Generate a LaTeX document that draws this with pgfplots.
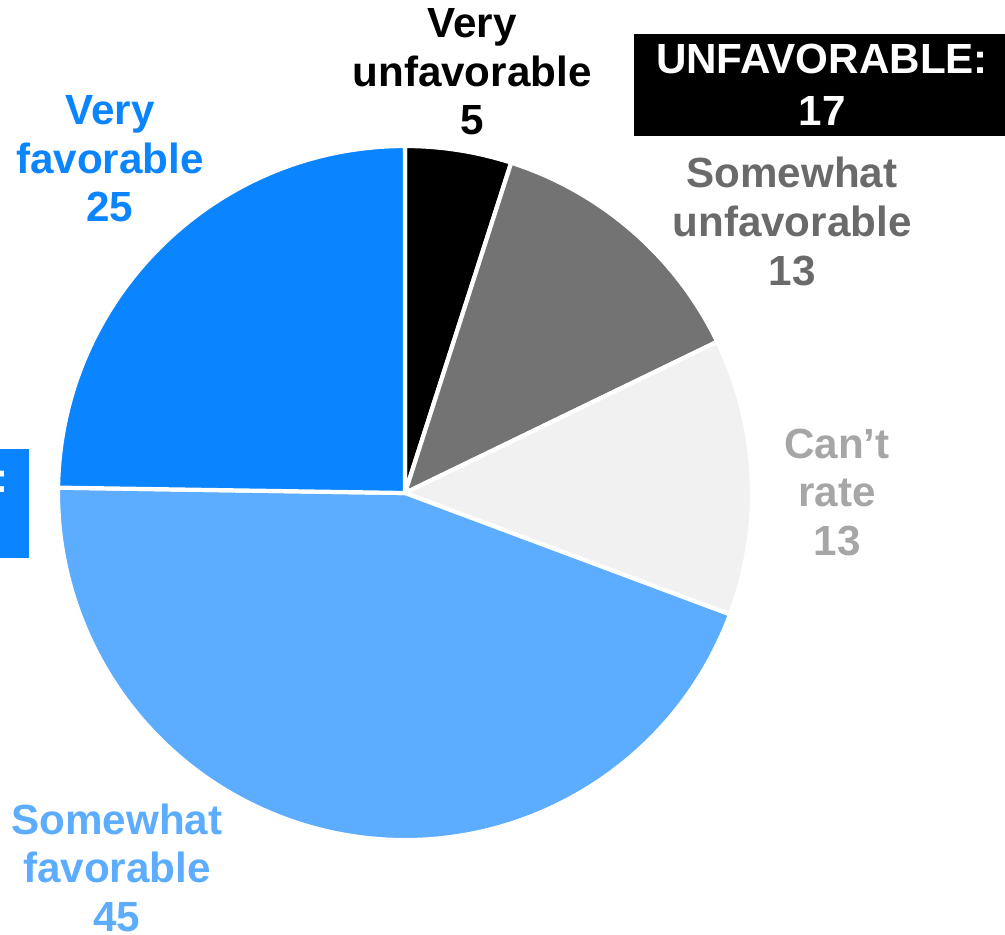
\documentclass[border=0pt]{standalone}
\usepackage{fontspec}
\setmainfont{Liberation Sans}
\usepackage{pgfplots}
\usepackage{pgfplotstable}
\pgfplotsset{compat=1.18}
\definecolor{vfav}{HTML}{0A84FF}
\definecolor{sfav}{HTML}{5CACFF}
\definecolor{sunf}{HTML}{737373}
\definecolor{cant}{HTML}{F1F1F1}
\definecolor{sunftext}{HTML}{6A6A6A}
\definecolor{canttext}{HTML}{A6A6A6}

\pgfplotstableread{
label value
VeryUnfavorable 5
SomewhatUnfavorable 13
CantRate 13
SomewhatFavorable 45
VeryFavorable 25
}\piedata

\begin{document}
\begin{tikzpicture}
\pgfplotstablegetelem{0}{value}\of\piedata \let\vA\pgfplotsretval
\pgfplotstablegetelem{1}{value}\of\piedata \let\vB\pgfplotsretval
\pgfplotstablegetelem{2}{value}\of\piedata \let\vC\pgfplotsretval
\pgfplotstablegetelem{3}{value}\of\piedata \let\vD\pgfplotsretval
\pgfplotstablegetelem{4}{value}\of\piedata \let\vE\pgfplotsretval
\pgfmathsetmacro\tot{\vA+\vB+\vC+\vD+\vE}
\pgfmathsetmacro\aA{90}
\pgfmathsetmacro\aB{\aA-\vA/\tot*360}
\pgfmathsetmacro\aC{\aB-\vB/\tot*360}
\pgfmathsetmacro\aD{\aC-\vC/\tot*360}
\pgfmathsetmacro\aE{\aD-\vD/\tot*360}
\pgfmathsetmacro\aF{\aE-\vE/\tot*360}
\useasboundingbox (0,0) rectangle (100.5mm,93.4mm);
\clip (0,0) rectangle (100.5mm,93.4mm);
\begin{axis}[
  x=0.1mm, y=0.1mm, scale only axis,
  xmin=0, xmax=1005, ymin=0, ymax=934,
  hide axis, clip=false,
  anchor=south west, at={(0,0)},
]
\def\R{34.7mm}
\fill[black,draw=white,line width=1.2pt] (axis cs:405,441) -- ++(\aA:\R) arc[start angle=\aA,end angle=\aB,radius=\R] -- cycle;
\fill[sunf,draw=white,line width=1.2pt] (axis cs:405,441) -- ++(\aB:\R) arc[start angle=\aB,end angle=\aC,radius=\R] -- cycle;
\fill[cant,draw=white,line width=1.2pt] (axis cs:405,441) -- ++(\aC:\R) arc[start angle=\aC,end angle=\aD,radius=\R] -- cycle;
\fill[sfav,draw=white,line width=1.2pt] (axis cs:405,441) -- ++(\aD:\R) arc[start angle=\aD,end angle=\aE,radius=\R] -- cycle;
\fill[vfav,draw=white,line width=1.2pt] (axis cs:405,441) -- ++(\aE:\R) arc[start angle=\aE,end angle=\aF,radius=\R] -- cycle;

\tikzset{lbl/.style={align=center,inner sep=0pt,anchor=base,font=\fontsize{12}{13.8}\selectfont\bfseries}}
\node[lbl,text=black] at (axis cs:472,799) {Very\\unfavorable\\5};
\node[lbl,text=vfav] at (axis cs:110,712) {Very\\favorable\\25};
\node[lbl,text=sunftext] at (axis cs:792,649) {Somewhat\\unfavorable\\13};
\node[lbl,text=canttext] at (axis cs:837,379) {Can’t\\rate\\13};
\node[lbl,text=sfav] at (axis cs:117,3) {Somewhat\\favorable\\45};

\node[fill=black,text=white,align=center,minimum width=37.6mm,minimum height=10.2mm,inner sep=0pt,
  font=\fontsize{12}{14.8}\selectfont\bfseries] at (axis cs:822,849) {UNFAVORABLE:\\17};
\node[fill=vfav,text=white,align=center,minimum height=10.9mm,inner ysep=0pt,inner xsep=2.1mm,anchor=east,
  font=\fontsize{12}{14.8}\selectfont\bfseries] at (axis cs:30,430.5) {FAVORABLE:\\70};
\end{axis}
\end{tikzpicture}
\end{document}
